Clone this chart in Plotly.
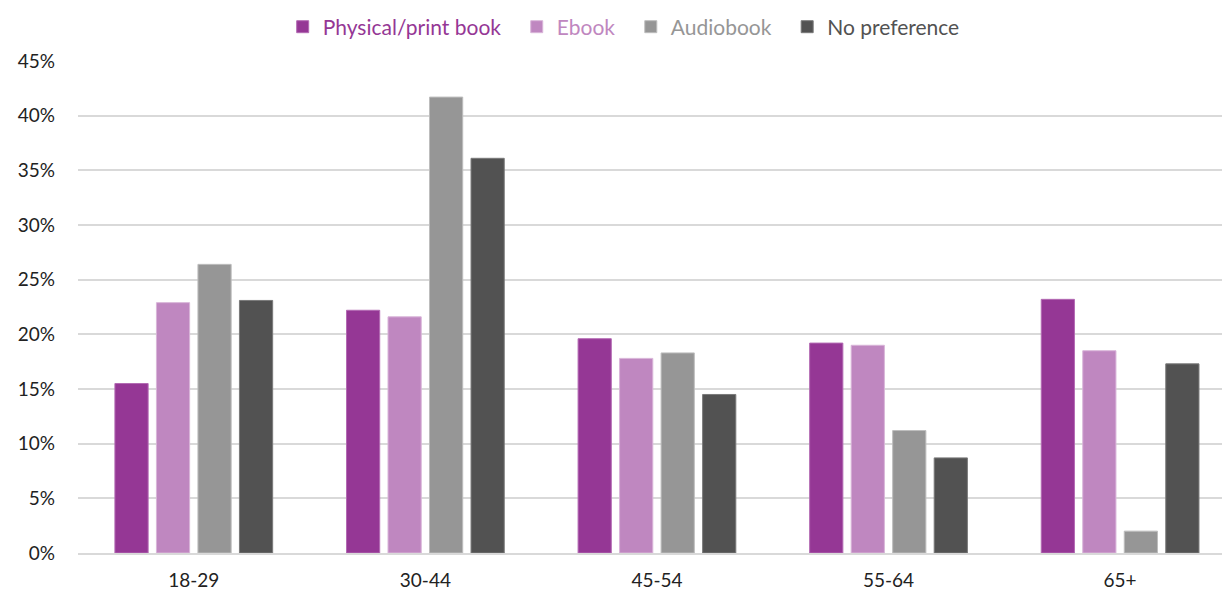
import plotly.graph_objects as go

age_groups = ["18-29", "30-44", "45-54", "55-64", "65+"]
physical = [15.5, 22.2, 19.6, 19.2, 23.2]
ebook = [22.9, 21.6, 17.8, 19.0, 18.5]
audiobook = [26.4, 41.7, 18.3, 11.2, 2.0]
no_preference = [23.1, 36.1, 14.5, 8.7, 17.3]

series = [
    ("Physical/print book", physical, "#953795", "#b36ab3"),
    ("Ebook", ebook, "#bf87c0", "#d9b5d9"),
    ("Audiobook", audiobook, "#969696", "#bdbdbd"),
    ("No preference", no_preference, "#525252", "#7a7a7a"),
]

fig = go.Figure()
for i, (name, vals, color, edge) in enumerate(series):
    pad = "&nbsp;&nbsp;" if i < len(series) - 1 else ""
    fig.add_trace(go.Bar(
        x=age_groups,
        y=vals,
        name=f'<span style="color:{color}">{name}</span>{pad}',
        marker=dict(color=color, line=dict(color=edge, width=1)),
    ))

font_family = "Lato, 'Open Sans', sans-serif"

fig.update_layout(
    width=1222,
    height=593,
    barmode="group",
    bargap=0.283,
    bargroupgap=0.2,
    plot_bgcolor="white",
    paper_bgcolor="white",
    margin=dict(l=78, r=0, t=61, b=40),
    font=dict(family=font_family, size=19, color="#222222"),
    legend=dict(
        orientation="h",
        x=0.477, xanchor="center",
        y=1.069, yanchor="middle",
        font=dict(size=21),
        itemwidth=30,
        traceorder="normal",
    ),
    xaxis=dict(
        range=[-0.5, 4.44],
        showgrid=False,
        showline=True,
        linecolor="#d9d9d9",
        linewidth=1.5,
        ticks="",
        tickfont=dict(size=19, color="#222222"),
        ticklabelstandoff=9,
    ),
    yaxis=dict(
        range=[0, 45],
        tick0=0,
        dtick=5,
        ticksuffix="%",
        showgrid=True,
        gridcolor="#d9d9d9",
        gridwidth=1.5,
        zeroline=False,
        showline=False,
        ticks="",
        tickfont=dict(size=19, color="#222222"),
        ticklabelstandoff=22,
    ),
)

fig.write_html("out.html")
